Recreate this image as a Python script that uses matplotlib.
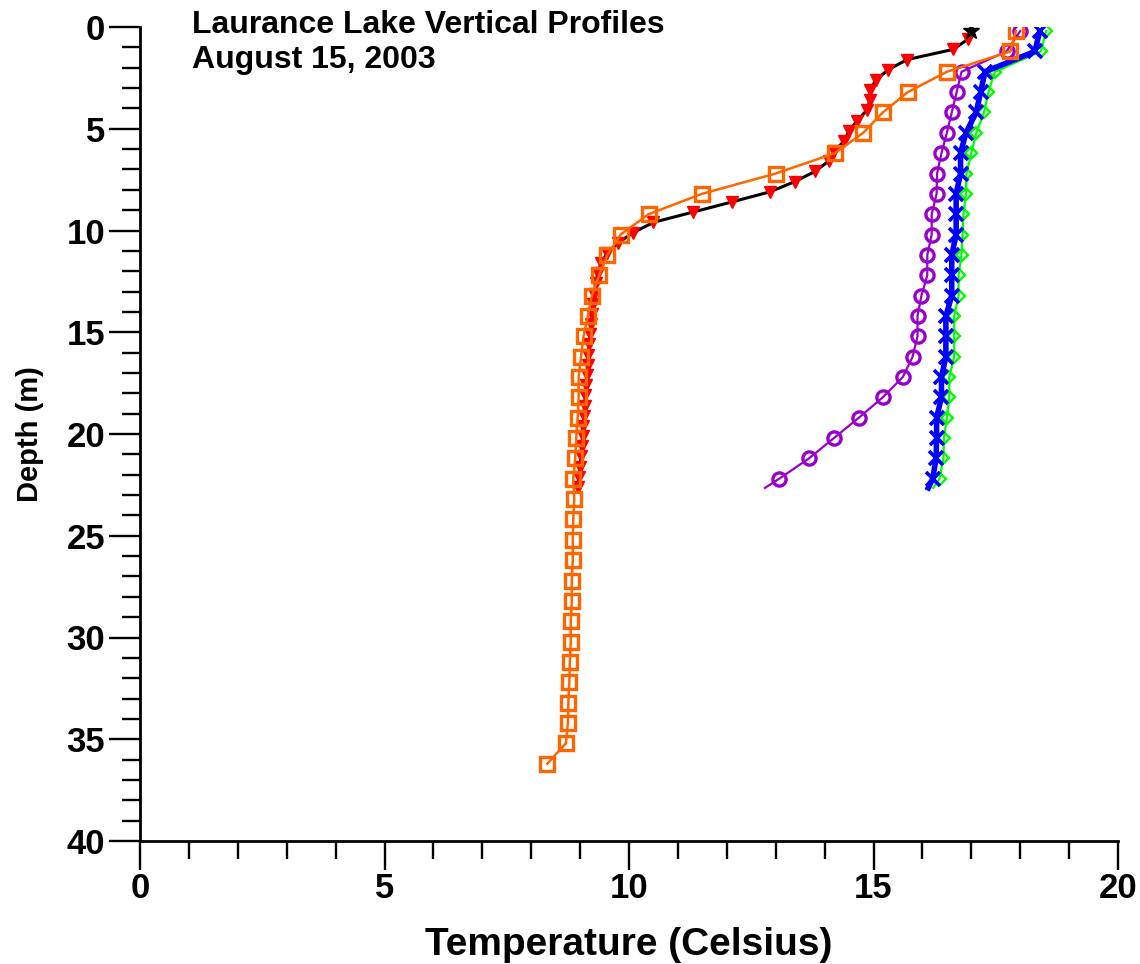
import matplotlib
matplotlib.use("Agg")
import matplotlib.pyplot as plt
from matplotlib.ticker import MultipleLocator

plt.rcParams['font.family'] = ['Liberation Sans', 'DejaVu Sans']
plt.rcParams['font.weight'] = 'bold'

# Profile 1: black line with red triangles (star marks the surface reading)
depth_black = [0.2, 0.6, 1.1, 1.6, 2.1, 2.6, 3.1, 3.6, 4.1, 4.6, 5.1, 5.6, 6.1, 6.6,
               7.1, 7.6, 8.1, 8.6, 9.1, 9.6, 10.1, 10.6, 11.1, 11.6, 12.1, 12.6,
               13.1, 13.6, 14.1, 14.6, 15.1, 15.6, 16.1, 16.6, 17.1, 17.6, 18.1,
               18.6, 19.1, 19.6, 20.1, 20.6, 21.1, 21.6, 22.1, 22.6]
temp_black = [17.00, 16.93, 16.63, 15.69, 15.30, 15.05, 14.93, 14.93, 14.86, 14.67,
              14.50, 14.40, 14.20, 14.08, 13.80, 13.39, 12.88, 12.10, 11.30, 10.50,
              10.09, 9.78, 9.56, 9.43, 9.36, 9.32, 9.29, 9.26, 9.24, 9.23, 9.21,
              9.19, 9.17, 9.16, 9.14, 9.13, 9.11, 9.09, 9.08, 9.06, 9.05, 9.03,
              9.02, 9.00, 8.98, 8.95]

# Profile 2: orange squares
depth_orange = [0.2, 1.2, 2.2, 3.2, 4.2, 5.2, 6.2, 7.2, 8.2, 9.2, 10.2, 11.2, 12.2,
                13.2, 14.2, 15.2, 16.2, 17.2, 18.2, 19.2, 20.2, 21.2, 22.2, 23.2,
                24.2, 25.2, 26.2, 27.2, 28.2, 29.2, 30.2, 31.2, 32.2, 33.2, 34.2,
                35.2, 36.2]
temp_orange = [17.91, 17.80, 16.50, 15.70, 15.19, 14.79, 14.21, 13.00, 11.49, 10.40,
               9.83, 9.56, 9.39, 9.24, 9.16, 9.07, 9.02, 8.97, 8.97, 8.95, 8.92,
               8.90, 8.86, 8.88, 8.86, 8.85, 8.85, 8.83, 8.83, 8.81, 8.81, 8.79,
               8.78, 8.76, 8.75, 8.71, 8.33]

# Profiles 3-5: purple circles, blue crosses, green diamonds
depth_shallow = [0.2, 1.2, 2.2, 3.2, 4.2, 5.2, 6.2, 7.2, 8.2, 9.2, 10.2, 11.2, 12.2,
                 13.2, 14.2, 15.2, 16.2, 17.2, 18.2, 19.2, 20.2, 21.2, 22.2, 22.65]
temp_purple = [18.00, 17.72, 16.80, 16.70, 16.60, 16.50, 16.39, 16.30, 16.29, 16.19,
               16.19, 16.10, 16.10, 15.98, 15.90, 15.90, 15.80, 15.60, 15.19, 14.70,
               14.19, 13.68, 13.07, 12.78]
temp_blue = [18.40, 18.30, 17.28, 17.19, 17.10, 16.89, 16.78, 16.78, 16.69, 16.69,
             16.69, 16.60, 16.60, 16.60, 16.48, 16.48, 16.48, 16.39, 16.39, 16.29,
             16.29, 16.28, 16.21, 16.12]
temp_green = [18.53, 18.42, 17.48, 17.35, 17.26, 17.10, 17.00, 16.90, 16.89, 16.84,
              16.82, 16.80, 16.74, 16.74, 16.65, 16.65, 16.65, 16.55, 16.55, 16.50,
              16.44, 16.43, 16.35, 16.22]

title_lines = ["Laurance Lake Vertical Profiles", "August 15, 2003"]
x_label = "Temperature (Celsius)"
y_label = "Depth (m)"

fig = plt.figure(figsize=(11.4, 9.64), dpi=100)
ax = fig.add_axes([140 / 1140, 1 - 841 / 964, 978 / 1140, 814 / 964])

n_marked = len(depth_shallow) - 1
ax.plot(temp_green, depth_shallow, color='#00FF00', lw=1.6, marker='D', ms=6.5,
        mfc='none', mec='#00FF00', mew=1.7, markevery=range(n_marked), zorder=2)
ax.plot(temp_blue, depth_shallow, color='#0000FF', lw=4, marker='x', ms=10.5,
        mec='#0000FF', mew=2.6, markevery=range(n_marked), zorder=3)
ax.plot(temp_purple, depth_shallow, color='#9900CC', lw=1.6, marker='o', ms=9.5,
        mfc='none', mec='#9900CC', mew=2.4, markevery=range(n_marked), zorder=4)
ax.plot(temp_black, depth_black, color='black', lw=2.2, zorder=5)
ax.plot(temp_black[1:], depth_black[1:], ls='none', marker='v', ms=8,
        mfc='#FF0000', mec='#FF0000', zorder=5)
ax.plot(temp_black[:1], depth_black[:1], ls='none', marker='*', ms=12,
        mfc='black', mec='black', zorder=7)
ax.plot(temp_orange, depth_orange, color='#FF6600', lw=1.8, marker='s', ms=10.5,
        mfc='none', mec='#FF6600', mew=2.4, zorder=6)

ax.set_xlim(0, 20)
ax.set_ylim(40, 0)
ax.xaxis.set_major_locator(MultipleLocator(5))
ax.xaxis.set_minor_locator(MultipleLocator(1))
ax.yaxis.set_major_locator(MultipleLocator(5))
ax.yaxis.set_minor_locator(MultipleLocator(1))

for side in ('top', 'right'):
    ax.spines[side].set_visible(False)
for side in ('left', 'bottom'):
    ax.spines[side].set_linewidth(2)

ax.tick_params(axis='x', which='major', direction='out', length=21, width=1.7,
               labelsize=25, pad=1)
ax.tick_params(axis='x', which='minor', direction='out', length=13, width=1.7)
ax.tick_params(axis='y', which='major', direction='out', length=22, width=1.7,
               labelsize=25, pad=3)
ax.tick_params(axis='y', which='minor', direction='out', length=13, width=1.7)
for lbl in ax.get_xticklabels() + ax.get_yticklabels():
    lbl.set_fontweight('bold')

ax.set_xlabel(x_label, fontsize=28, fontweight='bold', labelpad=16)
ax.set_ylabel(y_label, fontsize=21, fontweight='bold', labelpad=16)

fig.text(192 / 1140, 1 - 10 / 964, "\n".join(title_lines), fontsize=23,
         fontweight='bold', ha='left', va='top', linespacing=1.2)

fig.savefig("out.png", dpi=100)
